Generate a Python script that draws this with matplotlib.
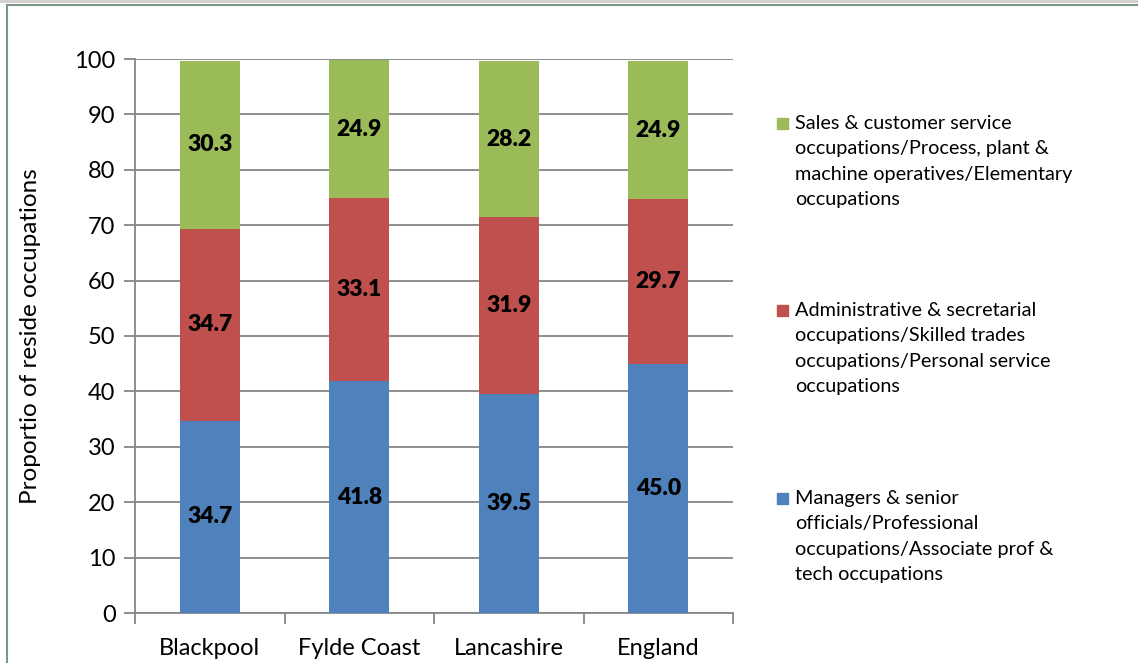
import matplotlib.pyplot as plt
from matplotlib.patches import Rectangle
import numpy as np

plt.rcParams['font.family'] = ['Lato', 'DejaVu Sans']

# data
areas = ["Blackpool", "Fylde Coast", "Lancashire", "England"]
managers = [34.7, 41.8, 39.5, 45.0]
admin = [34.7, 33.1, 31.9, 29.7]
sales = [30.3, 24.9, 28.2, 24.9]
series_names = ["Managers & senior\nofficials/Professional\noccupations/Associate prof &\ntech occupations",
                "Administrative & secretarial\noccupations/Skilled trades\noccupations/Personal service\noccupations",
                "Sales & customer service\noccupations/Process, plant &\nmachine operatives/Elementary\noccupations"]
colors = ["#4F81BD", "#C0504D", "#9BBB59"]

fig = plt.figure(figsize=(11.38, 6.63), dpi=100)
ax = fig.add_axes([135/1138, 1-613/663, (733-135)/1138, (613-59)/663])

x = np.arange(len(areas))
bottom = np.zeros(len(areas))
for vals, col in zip([managers, admin, sales], colors):
    vals = np.array(vals)
    ax.bar(x, vals, 0.4, bottom=bottom, color=col, zorder=3)
    for xi, b, v in zip(x, bottom, vals):
        ax.text(xi, b + v/2, f"{v:.1f}", ha='center', va='center',
                fontsize=16.5, fontweight='heavy', zorder=4)
    bottom += vals

ax.set_xlim(-0.5, 3.5)
ax.set_ylim(0, 100)
ax.set_yticks(range(0, 101, 10))
ax.yaxis.grid(True, color='#868686', linewidth=1.3, zorder=0)
ax.set_xticks(np.arange(-0.5, 4, 1))
ax.set_xticklabels([])
ax.set_xticks(x, minor=True)
ax.set_xticklabels(areas, minor=True, fontsize=17)
ax.tick_params(axis='x', which='minor', length=0, pad=18)
ax.tick_params(axis='x', which='major', length=8, width=1.3, color='#868686')
ax.tick_params(axis='y', length=8, width=1.3, color='#868686', labelsize=17, pad=6)
for s in ['top', 'right']:
    ax.spines[s].set_visible(False)
for s in ['left', 'bottom']:
    ax.spines[s].set_color('#868686')
    ax.spines[s].set_linewidth(1.3)
ax.set_ylabel("Proportio of reside occupations", fontsize=17.5, labelpad=24)

# legend drawn by hand (marker on first line)
leg_y = [123, 310, 498]
for name, col, yy in zip(series_names[::-1], colors[::-1], leg_y):
    fig.patches.append(Rectangle((777/1138, 1-(yy+6)/663), 11/1138, 11/663,
                                 transform=fig.transFigure, color=col))
    fig.text(795/1138, 1-(yy-8)/663, name, fontsize=14.3, va='top', ha='left',
             linespacing=1.6)

# chart frame
fig.patches.append(Rectangle((7/1138, -0.1), 1.2, 1-5/663+0.1, transform=fig.transFigure,
                             fill=False, edgecolor='#7d9785', linewidth=1.5))
fig.lines.append(plt.Line2D([0, 1], [1-1/663, 1-1/663], transform=fig.transFigure,
                            color='#cfcfcf', linewidth=2))
fig.savefig("out.png", dpi=100)
